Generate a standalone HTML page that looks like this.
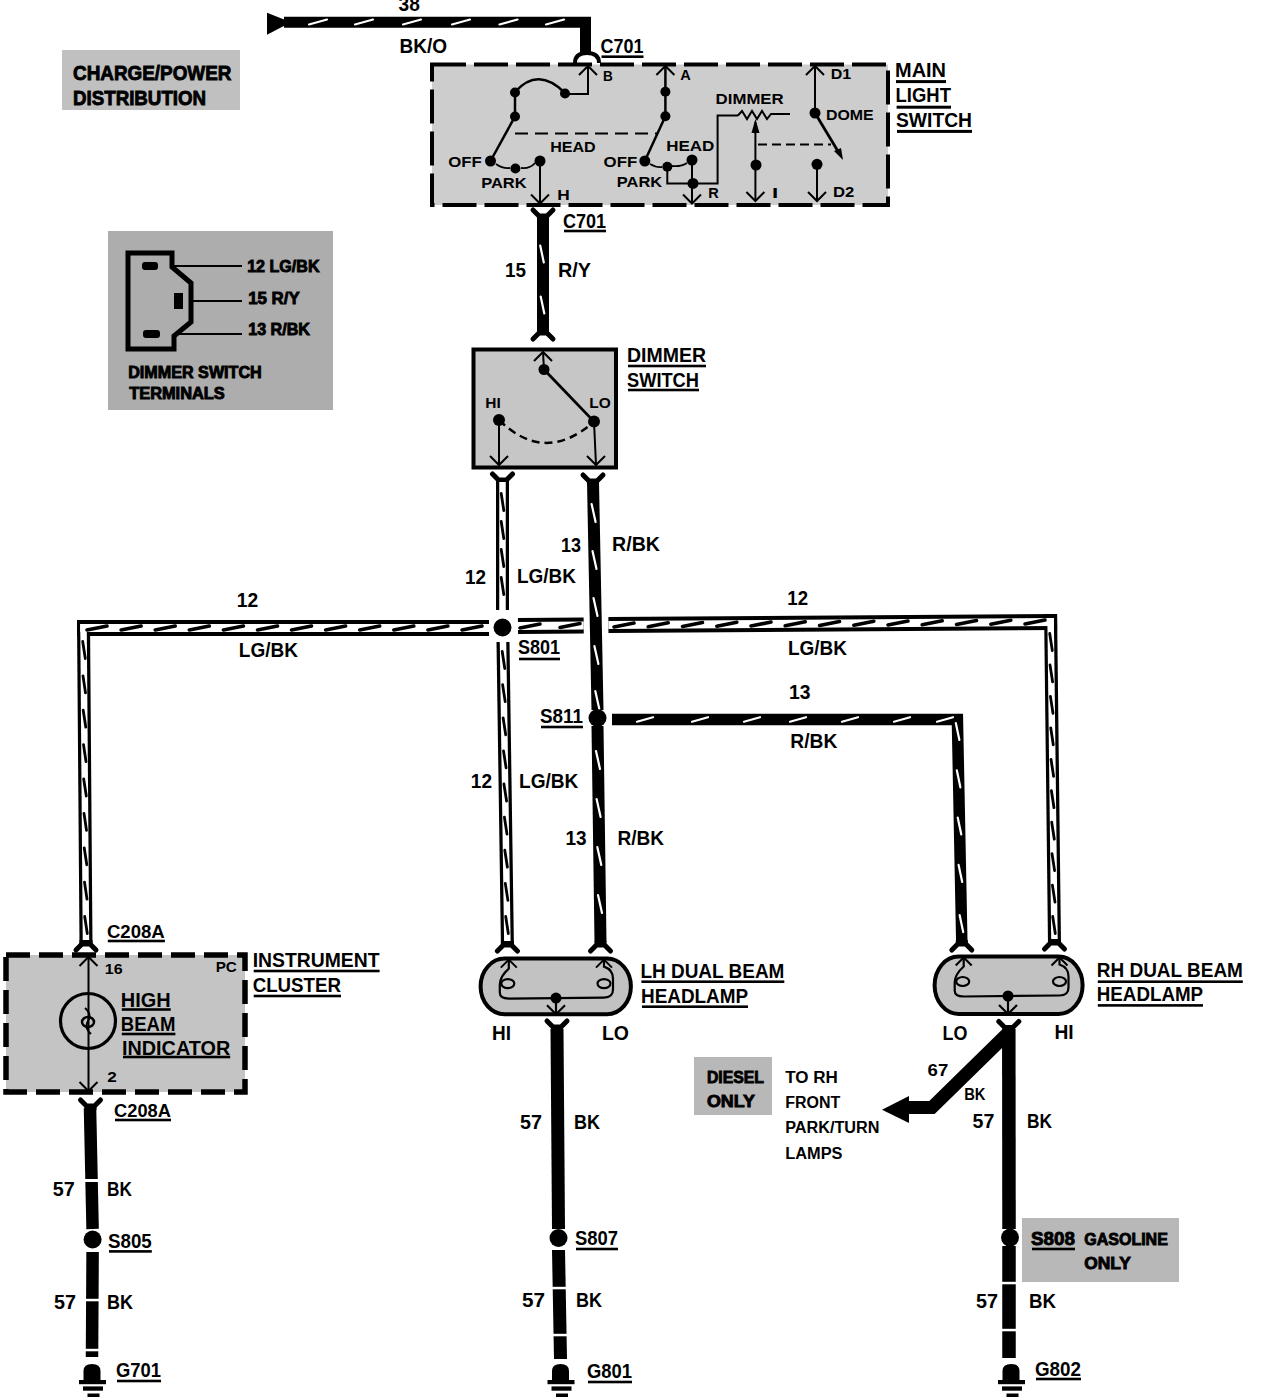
<!DOCTYPE html>
<html><head><meta charset="utf-8"><style>
html,body{margin:0;padding:0;background:#fff;width:1264px;height:1398px;overflow:hidden}
svg{display:block}
text{font-family:"Liberation Sans",sans-serif;font-weight:bold;fill:#000}
</style></head><body>
<svg width="1264" height="1398" viewBox="0 0 1264 1398">
<rect x="62" y="50" width="178" height="60" fill="#c0c0c0"/>
<text x="73" y="80.1" font-size="21" textLength="158.4" lengthAdjust="spacingAndGlyphs" stroke="#000" stroke-width="0.9">CHARGE/POWER</text>
<text x="73" y="104.7" font-size="21" textLength="133.1" lengthAdjust="spacingAndGlyphs" stroke="#000" stroke-width="0.9">DISTRIBUTION</text>
<rect x="108" y="231" width="225" height="179" fill="#adadad"/>
<path d="M172,253 L128,253 L128,349 L174,349 L174,336 L191,322 L191,283 L172,267 Z" stroke="#000" stroke-width="5" fill="none"/>
<rect x="142" y="262" width="16" height="8" rx="3"/>
<rect x="174" y="293" width="9" height="16"/>
<rect x="143" y="330" width="17" height="8" rx="3"/>
<line x1="172" y1="266" x2="242" y2="266" stroke="#000" stroke-width="2" stroke-linecap="butt"/>
<line x1="191" y1="301" x2="242" y2="301" stroke="#000" stroke-width="2" stroke-linecap="butt"/>
<line x1="174" y1="334" x2="242" y2="334" stroke="#000" stroke-width="2" stroke-linecap="butt"/>
<text x="247.2" y="272.2" font-size="17" textLength="72.3" lengthAdjust="spacingAndGlyphs" stroke="#000" stroke-width="0.9">12 LG/BK</text>
<text x="248.2" y="303.6" font-size="17" textLength="51.5" lengthAdjust="spacingAndGlyphs" stroke="#000" stroke-width="0.9">15 R/Y</text>
<text x="248.2" y="335.2" font-size="17" textLength="61.7" lengthAdjust="spacingAndGlyphs" stroke="#000" stroke-width="0.9">13 R/BK</text>
<text x="128.2" y="377.5" font-size="16" textLength="133.6" lengthAdjust="spacingAndGlyphs" stroke="#000" stroke-width="0.9">DIMMER SWITCH</text>
<text x="129.2" y="398.5" font-size="16" textLength="95.6" lengthAdjust="spacingAndGlyphs" stroke="#000" stroke-width="0.9">TERMINALS</text>
<path d="M267,12.7 L267,34.8 L291,22.2 Z"/>
<path d="M284,22.2 L585.5,22.2 L585.5,53" stroke="#000" stroke-width="11" fill="none" stroke-linejoin="miter"/>
<line x1="309" y1="24.5" x2="327" y2="19.5" stroke="#fff" stroke-width="2.2" stroke-linecap="round"/>
<line x1="355" y1="24.5" x2="373" y2="19.5" stroke="#fff" stroke-width="2.2" stroke-linecap="round"/>
<line x1="403" y1="24.5" x2="421" y2="19.5" stroke="#fff" stroke-width="2.2" stroke-linecap="round"/>
<line x1="452" y1="24.5" x2="470" y2="19.5" stroke="#fff" stroke-width="2.2" stroke-linecap="round"/>
<line x1="499.5" y1="24.5" x2="517.5" y2="19.5" stroke="#fff" stroke-width="2.2" stroke-linecap="round"/>
<line x1="546" y1="24.5" x2="564" y2="19.5" stroke="#fff" stroke-width="2.2" stroke-linecap="round"/>
<text x="398.5" y="11.4" font-size="20" textLength="21.3" lengthAdjust="spacingAndGlyphs">38</text>
<text x="399.4" y="53.4" font-size="20" textLength="47.6" lengthAdjust="spacingAndGlyphs">BK/O</text>
<text x="600.5" y="52.9" font-size="20" textLength="43" lengthAdjust="spacingAndGlyphs">C701</text>
<rect x="601.5" y="55.4" width="42" height="2.6"/>
<path d="M575,63 Q575,53 587,53 Q599,53 599,63" stroke="#000" stroke-width="4" fill="none" />
<rect x="432" y="64.5" width="456" height="140.5" fill="#cdcdcd" stroke="#000" stroke-width="4" stroke-dasharray="34 8"/>
<path d="M579,75 L588,66 L597,75" stroke="#000" stroke-width="2" fill="none"/>
<path d="M588,66 L588,94 L565,94" stroke="#000" stroke-width="2" fill="none"/>
<circle cx="565" cy="93.5" r="5"/>
<circle cx="515" cy="92.5" r="5"/>
<path d="M515,92 Q538,66 565,93" stroke="#000" stroke-width="2.5" fill="none" />
<line x1="515" y1="92.5" x2="515" y2="116.5" stroke="#000" stroke-width="2.5" stroke-linecap="butt"/>
<circle cx="515" cy="116.5" r="5"/>
<line x1="515" y1="116.5" x2="490.5" y2="161" stroke="#000" stroke-width="2.5" stroke-linecap="butt"/>
<circle cx="490.5" cy="161" r="5.5"/>
<circle cx="515.4" cy="168.5" r="5"/>
<circle cx="540" cy="161" r="5.5"/>
<path d="M496,164 Q503,169 510,168" stroke="#000" stroke-width="1.8" fill="none" />
<path d="M521,168 Q530,169 535,163" stroke="#000" stroke-width="1.8" fill="none" />
<line x1="540" y1="161" x2="540" y2="204" stroke="#000" stroke-width="2" stroke-linecap="butt"/>
<path d="M531,194.5 L540,203.5 L549,194.5" stroke="#000" stroke-width="2" fill="none"/>
<line x1="515" y1="133.5" x2="657" y2="133.5" stroke="#000" stroke-width="2.2" stroke-dasharray="13 7"/>
<text x="448.2" y="166.7" font-size="15" textLength="33.5" lengthAdjust="spacingAndGlyphs">OFF</text>
<text x="481.2" y="188.2" font-size="15" textLength="45.5" lengthAdjust="spacingAndGlyphs">PARK</text>
<text x="550.2" y="152.2" font-size="15" textLength="45.5" lengthAdjust="spacingAndGlyphs">HEAD</text>
<text x="557.2" y="200.2" font-size="15" textLength="12.5" lengthAdjust="spacingAndGlyphs">H</text>
<text x="603" y="80.9" font-size="15" textLength="9.8" lengthAdjust="spacingAndGlyphs">B</text>
<path d="M656.4,75 L665.4,66 L674.4,75" stroke="#000" stroke-width="2" fill="none"/>
<line x1="665.4" y1="66" x2="665.4" y2="116.2" stroke="#000" stroke-width="2.5" stroke-linecap="butt"/>
<circle cx="665.4" cy="91.8" r="5"/>
<circle cx="665.4" cy="116.2" r="5"/>
<line x1="665.4" y1="116.2" x2="644.8" y2="161" stroke="#000" stroke-width="2.5" stroke-linecap="butt"/>
<circle cx="644.8" cy="161" r="5.5"/>
<circle cx="667.3" cy="166.8" r="5"/>
<circle cx="692" cy="160" r="5.5"/>
<path d="M650,164 Q657,168 662,167" stroke="#000" stroke-width="1.8" fill="none" />
<path d="M672,166 Q681,167 687,163" stroke="#000" stroke-width="1.8" fill="none" />
<line x1="692" y1="160" x2="692" y2="204" stroke="#000" stroke-width="2" stroke-linecap="butt"/>
<path d="M683,194.5 L692,203.5 L701,194.5" stroke="#000" stroke-width="2" fill="none"/>
<circle cx="693" cy="183.4" r="5.5"/>
<path d="M667.3,166.8 L667.3,183.4 L717.6,183.4 L717.6,115.5 L738,115.5" stroke="#000" stroke-width="2" fill="none"/>
<text x="603.6" y="166.7" font-size="15" textLength="33.6" lengthAdjust="spacingAndGlyphs">OFF</text>
<text x="616.8" y="186.7" font-size="15" textLength="45.4" lengthAdjust="spacingAndGlyphs">PARK</text>
<text x="666.2" y="151.2" font-size="15" textLength="48.1" lengthAdjust="spacingAndGlyphs">HEAD</text>
<text x="708.2" y="198.2" font-size="15" textLength="10.5" lengthAdjust="spacingAndGlyphs">R</text>
<text x="680.2" y="79.7" font-size="15" textLength="10.5" lengthAdjust="spacingAndGlyphs">A</text>
<path d="M738,115.5 L742,111 L747,119 L752,111 L757,119 L762,111 L767,119 L771,114 L790,114" stroke="#000" stroke-width="2" fill="none"/>
<line x1="755.4" y1="122" x2="755.4" y2="201" stroke="#000" stroke-width="2" stroke-linecap="butt"/>
<path d="M755.4,119 L751.5,133 L759.5,133 Z"/>
<circle cx="756" cy="165" r="5.5"/>
<path d="M746.4,192 L755.4,201 L764.4,192" stroke="#000" stroke-width="2" fill="none"/>
<line x1="758" y1="144.5" x2="831" y2="144.5" stroke="#000" stroke-width="2" stroke-dasharray="9 5"/>
<text x="715.6" y="103.5" font-size="15" textLength="68.1" lengthAdjust="spacingAndGlyphs">DIMMER</text>
<text x="772" y="197.5" font-size="15" textLength="6.2" lengthAdjust="spacingAndGlyphs">I</text>
<path d="M806,75 L815,66 L824,75" stroke="#000" stroke-width="2" fill="none"/>
<line x1="815" y1="66" x2="815" y2="113" stroke="#000" stroke-width="2" stroke-linecap="butt"/>
<circle cx="815" cy="113" r="5.5"/>
<line x1="815" y1="113" x2="839" y2="153" stroke="#000" stroke-width="2.8" stroke-linecap="butt"/>
<path d="M843,160 L834,151 L841,148 Z"/>
<circle cx="817" cy="164.3" r="5.5"/>
<line x1="817" y1="164.3" x2="817" y2="201" stroke="#000" stroke-width="2" stroke-linecap="butt"/>
<path d="M808,192 L817,201 L826,192" stroke="#000" stroke-width="2" fill="none"/>
<text x="830.8" y="78.5" font-size="15" textLength="20.5" lengthAdjust="spacingAndGlyphs">D1</text>
<text x="826" y="119.8" font-size="15" textLength="47.7" lengthAdjust="spacingAndGlyphs">DOME</text>
<text x="833" y="197.2" font-size="15" textLength="21.3" lengthAdjust="spacingAndGlyphs">D2</text>
<text x="895" y="76.9" font-size="19.5" textLength="51" lengthAdjust="spacingAndGlyphs">MAIN</text>
<rect x="896" y="80.1" width="50" height="3"/>
<text x="895.6" y="101.8" font-size="19.5" textLength="55.3" lengthAdjust="spacingAndGlyphs">LIGHT</text>
<rect x="896.6" y="105.7" width="54.4" height="3"/>
<text x="896" y="126.7" font-size="19.5" textLength="76" lengthAdjust="spacingAndGlyphs">SWITCH</text>
<rect x="897" y="129.9" width="75" height="3"/>
<path d="M533,210 L539,216 L547,216 L553,210" stroke="#000" stroke-width="5" fill="none" stroke-linecap="round" stroke-linejoin="round"/>
<rect x="537" y="215" width="12" height="5"/>
<path d="M543,218 L543,332" stroke="#000" stroke-width="12" fill="none" stroke-linejoin="miter"/>
<line x1="540.2" y1="245.5" x2="543.8" y2="262.5" stroke="#fff" stroke-width="2.2" stroke-linecap="round"/>
<line x1="540.7" y1="296.5" x2="544.3" y2="313.5" stroke="#fff" stroke-width="2.2" stroke-linecap="round"/>
<path d="M533,339 L539,333 L547,333 L553,339" stroke="#000" stroke-width="5" fill="none" stroke-linecap="round" stroke-linejoin="round"/>
<rect x="537" y="329" width="12" height="5"/>
<text x="563" y="227.9" font-size="20" textLength="43" lengthAdjust="spacingAndGlyphs">C701</text>
<rect x="564" y="229.7" width="42" height="2.6"/>
<text x="505" y="276.9" font-size="20" textLength="21" lengthAdjust="spacingAndGlyphs">15</text>
<text x="558" y="276.9" font-size="20" textLength="33" lengthAdjust="spacingAndGlyphs">R/Y</text>
<rect x="473.5" y="349.5" width="142.5" height="118" fill="#c6c6c6" stroke="#000" stroke-width="4"/>
<path d="M534,361 L543,352 L552,361" stroke="#000" stroke-width="2" fill="none"/>
<line x1="543" y1="352" x2="544" y2="369.5" stroke="#000" stroke-width="2" stroke-linecap="butt"/>
<circle cx="544" cy="369.5" r="5.5"/>
<line x1="544" y1="369.5" x2="594" y2="421.6" stroke="#000" stroke-width="2.8" stroke-linecap="butt"/>
<circle cx="594" cy="421.6" r="6"/>
<circle cx="499" cy="420" r="6"/>
<path d="M499,420 Q545,465 594,421.6" stroke="#000" stroke-width="2.5" fill="none" stroke-dasharray="8 5"/>
<line x1="499" y1="420" x2="499" y2="465" stroke="#000" stroke-width="2" stroke-linecap="butt"/>
<path d="M490,456 L499,465 L508,456" stroke="#000" stroke-width="2" fill="none"/>
<line x1="594" y1="421.6" x2="596" y2="465" stroke="#000" stroke-width="2" stroke-linecap="butt"/>
<path d="M587,456 L596,465 L605,456" stroke="#000" stroke-width="2" fill="none"/>
<text x="485.2" y="408.2" font-size="15" textLength="15.5" lengthAdjust="spacingAndGlyphs">HI</text>
<text x="589.2" y="408.2" font-size="15" textLength="21.5" lengthAdjust="spacingAndGlyphs">LO</text>
<text x="627" y="361.9" font-size="20" textLength="79" lengthAdjust="spacingAndGlyphs">DIMMER</text>
<rect x="628" y="364.7" width="78" height="2.6"/>
<text x="627" y="386.9" font-size="20" textLength="72" lengthAdjust="spacingAndGlyphs">SWITCH</text>
<rect x="628" y="388.7" width="71" height="2.6"/>
<path d="M492.5,474 L498.5,480 L506.5,480 L512.5,474" stroke="#000" stroke-width="5" fill="none" stroke-linecap="round" stroke-linejoin="round"/>
<rect x="496" y="479" width="13" height="5"/>
<path d="M502.5,482 L502.5,610" stroke="#000" stroke-width="13" fill="none"/>
<path d="M502.5,482 L502.5,610" stroke="#fff" stroke-width="6.5" fill="none"/>
<path d="M501.2,493.5 L503.8,510.5" stroke="#000" stroke-width="2.8" stroke-linecap="round"/>
<path d="M501.2,521.5 L503.8,538.5" stroke="#000" stroke-width="2.8" stroke-linecap="round"/>
<path d="M501.2,549.5 L503.8,566.5" stroke="#000" stroke-width="2.8" stroke-linecap="round"/>
<path d="M501.2,577.5 L503.8,594.5" stroke="#000" stroke-width="2.8" stroke-linecap="round"/>
<path d="M503,642 L507.4,944" stroke="#000" stroke-width="13" fill="none"/>
<path d="M503,642 L507.4,944" stroke="#fff" stroke-width="6.5" fill="none"/>
<path d="M502.2,651.5 L504.8,668.5" stroke="#000" stroke-width="2.8" stroke-linecap="round"/>
<path d="M502.6,684.6 L505.2,701.6" stroke="#000" stroke-width="2.8" stroke-linecap="round"/>
<path d="M503.1,717.8 L505.7,734.8" stroke="#000" stroke-width="2.8" stroke-linecap="round"/>
<path d="M503.5,750.9 L506.1,767.9" stroke="#000" stroke-width="2.8" stroke-linecap="round"/>
<path d="M503.9,784 L506.6,801" stroke="#000" stroke-width="2.8" stroke-linecap="round"/>
<path d="M504.4,817.1 L507,834.1" stroke="#000" stroke-width="2.8" stroke-linecap="round"/>
<path d="M504.8,850.2 L507.4,867.2" stroke="#000" stroke-width="2.8" stroke-linecap="round"/>
<path d="M505.3,883.4 L507.9,900.4" stroke="#000" stroke-width="2.8" stroke-linecap="round"/>
<path d="M505.7,916.5 L508.3,933.5" stroke="#000" stroke-width="2.8" stroke-linecap="round"/>
<path d="M497.4,951 L503.4,945 L511.4,945 L517.4,951" stroke="#000" stroke-width="5" fill="none" stroke-linecap="round" stroke-linejoin="round"/>
<rect x="500.9" y="941" width="13" height="5"/>
<path d="M489,628 L77,628" stroke="#000" stroke-width="16" fill="none"/>
<path d="M83.5,620 L86,944" stroke="#000" stroke-width="13" fill="none"/>
<path d="M489,628 L80.2,628" stroke="#fff" stroke-width="8" fill="none"/>
<path d="M83.5,624 L86,944" stroke="#fff" stroke-width="6.5" fill="none"/>
<path d="M87,630 L107,626" stroke="#000" stroke-width="3.6" stroke-linecap="round"/>
<path d="M121.1,630 L141.1,626" stroke="#000" stroke-width="3.6" stroke-linecap="round"/>
<path d="M155.2,630 L175.2,626" stroke="#000" stroke-width="3.6" stroke-linecap="round"/>
<path d="M189.3,630 L209.3,626" stroke="#000" stroke-width="3.6" stroke-linecap="round"/>
<path d="M223.4,630 L243.4,626" stroke="#000" stroke-width="3.6" stroke-linecap="round"/>
<path d="M257.5,630 L277.5,626" stroke="#000" stroke-width="3.6" stroke-linecap="round"/>
<path d="M291.5,630 L311.5,626" stroke="#000" stroke-width="3.6" stroke-linecap="round"/>
<path d="M325.6,630 L345.6,626" stroke="#000" stroke-width="3.6" stroke-linecap="round"/>
<path d="M359.7,630 L379.7,626" stroke="#000" stroke-width="3.6" stroke-linecap="round"/>
<path d="M393.8,630 L413.8,626" stroke="#000" stroke-width="3.6" stroke-linecap="round"/>
<path d="M427.9,630 L447.9,626" stroke="#000" stroke-width="3.6" stroke-linecap="round"/>
<path d="M462,630 L482,626" stroke="#000" stroke-width="3.6" stroke-linecap="round"/>
<path d="M82.7,641.5 L85.3,658.5" stroke="#000" stroke-width="2.8" stroke-linecap="round"/>
<path d="M83,675.9 L85.5,692.9" stroke="#000" stroke-width="2.8" stroke-linecap="round"/>
<path d="M83.2,710.2 L85.8,727.2" stroke="#000" stroke-width="2.8" stroke-linecap="round"/>
<path d="M83.5,744.6 L86,761.6" stroke="#000" stroke-width="2.8" stroke-linecap="round"/>
<path d="M83.7,779 L86.3,796" stroke="#000" stroke-width="2.8" stroke-linecap="round"/>
<path d="M84,813.4 L86.5,830.4" stroke="#000" stroke-width="2.8" stroke-linecap="round"/>
<path d="M84.2,847.8 L86.8,864.8" stroke="#000" stroke-width="2.8" stroke-linecap="round"/>
<path d="M84.5,882.1 L87,899.1" stroke="#000" stroke-width="2.8" stroke-linecap="round"/>
<path d="M84.7,916.5 L87.3,933.5" stroke="#000" stroke-width="2.8" stroke-linecap="round"/>
<path d="M76,950 L82,944 L90,944 L96,950" stroke="#000" stroke-width="5" fill="none" stroke-linecap="round" stroke-linejoin="round"/>
<rect x="79.5" y="940" width="13" height="5"/>
<path d="M518,626 L583.7,625.5" stroke="#000" stroke-width="16" fill="none"/>
<path d="M518,626 L583.7,625.5" stroke="#fff" stroke-width="8" fill="none"/>
<path d="M520,628 L540,624" stroke="#000" stroke-width="3.6" stroke-linecap="round"/>
<path d="M560,627.5 L580,623.5" stroke="#000" stroke-width="3.6" stroke-linecap="round"/>
<path d="M608.4,625 L1057.1,621.9" stroke="#000" stroke-width="16" fill="none"/>
<path d="M1050.6,614 L1054.5,944" stroke="#000" stroke-width="13" fill="none"/>
<path d="M608.4,625 L1053.8,621.9" stroke="#fff" stroke-width="8" fill="none"/>
<path d="M1050.6,618 L1054.5,944" stroke="#fff" stroke-width="6.5" fill="none"/>
<path d="M614,627 L634,623" stroke="#000" stroke-width="3.6" stroke-linecap="round"/>
<path d="M648.2,626.8 L668.2,622.8" stroke="#000" stroke-width="3.6" stroke-linecap="round"/>
<path d="M682.5,626.5 L702.5,622.5" stroke="#000" stroke-width="3.6" stroke-linecap="round"/>
<path d="M716.8,626.2 L736.8,622.2" stroke="#000" stroke-width="3.6" stroke-linecap="round"/>
<path d="M751,626 L771,622" stroke="#000" stroke-width="3.6" stroke-linecap="round"/>
<path d="M785.2,625.8 L805.2,621.8" stroke="#000" stroke-width="3.6" stroke-linecap="round"/>
<path d="M819.5,625.5 L839.5,621.5" stroke="#000" stroke-width="3.6" stroke-linecap="round"/>
<path d="M853.8,625.2 L873.8,621.2" stroke="#000" stroke-width="3.6" stroke-linecap="round"/>
<path d="M888,625 L908,621" stroke="#000" stroke-width="3.6" stroke-linecap="round"/>
<path d="M922.2,624.8 L942.2,620.8" stroke="#000" stroke-width="3.6" stroke-linecap="round"/>
<path d="M956.5,624.5 L976.5,620.5" stroke="#000" stroke-width="3.6" stroke-linecap="round"/>
<path d="M990.8,624.2 L1010.8,620.2" stroke="#000" stroke-width="3.6" stroke-linecap="round"/>
<path d="M1025,624 L1045,620" stroke="#000" stroke-width="3.6" stroke-linecap="round"/>
<path d="M1049.7,633.5 L1052.3,650.5" stroke="#000" stroke-width="2.8" stroke-linecap="round"/>
<path d="M1050,664.9 L1052.6,681.9" stroke="#000" stroke-width="2.8" stroke-linecap="round"/>
<path d="M1050.4,696.4 L1053,713.4" stroke="#000" stroke-width="2.8" stroke-linecap="round"/>
<path d="M1050.7,727.8 L1053.3,744.8" stroke="#000" stroke-width="2.8" stroke-linecap="round"/>
<path d="M1051,759.3 L1053.6,776.3" stroke="#000" stroke-width="2.8" stroke-linecap="round"/>
<path d="M1051.4,790.7 L1054,807.7" stroke="#000" stroke-width="2.8" stroke-linecap="round"/>
<path d="M1051.7,822.2 L1054.3,839.2" stroke="#000" stroke-width="2.8" stroke-linecap="round"/>
<path d="M1052,853.6 L1054.6,870.6" stroke="#000" stroke-width="2.8" stroke-linecap="round"/>
<path d="M1052.4,885.1 L1055,902.1" stroke="#000" stroke-width="2.8" stroke-linecap="round"/>
<path d="M1052.7,916.5 L1055.3,933.5" stroke="#000" stroke-width="2.8" stroke-linecap="round"/>
<path d="M1044.5,949 L1050.5,943 L1058.5,943 L1064.5,949" stroke="#000" stroke-width="5" fill="none" stroke-linecap="round" stroke-linejoin="round"/>
<rect x="1048" y="939" width="13" height="5"/>
<circle cx="502.5" cy="627.5" r="9"/>
<text x="236.8" y="607.4" font-size="20" textLength="21.4" lengthAdjust="spacingAndGlyphs">12</text>
<text x="238.8" y="656.8" font-size="20" textLength="59.2" lengthAdjust="spacingAndGlyphs">LG/BK</text>
<text x="465" y="583.9" font-size="20" textLength="21" lengthAdjust="spacingAndGlyphs">12</text>
<text x="517" y="582.9" font-size="20" textLength="59" lengthAdjust="spacingAndGlyphs">LG/BK</text>
<text x="518" y="653.9" font-size="20" textLength="42" lengthAdjust="spacingAndGlyphs">S801</text>
<rect x="519" y="657.7" width="41" height="2.6"/>
<text x="787.3" y="604.9" font-size="20" textLength="20.7" lengthAdjust="spacingAndGlyphs">12</text>
<text x="787.9" y="654.9" font-size="20" textLength="59.1" lengthAdjust="spacingAndGlyphs">LG/BK</text>
<text x="470.8" y="787.9" font-size="20" textLength="21.2" lengthAdjust="spacingAndGlyphs">12</text>
<text x="519" y="787.9" font-size="20" textLength="59.4" lengthAdjust="spacingAndGlyphs">LG/BK</text>
<path d="M583,475 L589,481 L597,481 L603,475" stroke="#000" stroke-width="5" fill="none" stroke-linecap="round" stroke-linejoin="round"/>
<rect x="587" y="480" width="12" height="5"/>
<path d="M593,482 L597.5,710" stroke="#000" stroke-width="12" fill="none" stroke-linejoin="miter"/>
<line x1="591.6" y1="504" x2="595.6" y2="522" stroke="#fff" stroke-width="2.2" stroke-linecap="round"/>
<line x1="592.5" y1="551" x2="596.5" y2="569" stroke="#fff" stroke-width="2.2" stroke-linecap="round"/>
<line x1="593.5" y1="598" x2="597.5" y2="616" stroke="#fff" stroke-width="2.2" stroke-linecap="round"/>
<line x1="594.4" y1="646" x2="598.4" y2="664" stroke="#fff" stroke-width="2.2" stroke-linecap="round"/>
<line x1="595.3" y1="691" x2="599.3" y2="709" stroke="#fff" stroke-width="2.2" stroke-linecap="round"/>
<circle cx="597.5" cy="718" r="9"/>
<path d="M597.5,726 L600.5,942" stroke="#000" stroke-width="12" fill="none" stroke-linejoin="miter"/>
<line x1="596" y1="751" x2="600" y2="769" stroke="#fff" stroke-width="2.2" stroke-linecap="round"/>
<line x1="596.6" y1="799" x2="600.6" y2="817" stroke="#fff" stroke-width="2.2" stroke-linecap="round"/>
<line x1="597.3" y1="847" x2="601.3" y2="865" stroke="#fff" stroke-width="2.2" stroke-linecap="round"/>
<line x1="598" y1="895" x2="602" y2="913" stroke="#fff" stroke-width="2.2" stroke-linecap="round"/>
<path d="M590.5,951 L596.5,945 L604.5,945 L610.5,951" stroke="#000" stroke-width="5" fill="none" stroke-linecap="round" stroke-linejoin="round"/>
<rect x="594.5" y="941" width="12" height="5"/>
<path d="M612,719.5 L957.4,719.5 L961.8,942" stroke="#000" stroke-width="11.5" fill="none" stroke-linejoin="miter"/>
<line x1="637" y1="721.8" x2="653" y2="717.2" stroke="#fff" stroke-width="2.2" stroke-linecap="round"/>
<line x1="692" y1="721.8" x2="708" y2="717.2" stroke="#fff" stroke-width="2.2" stroke-linecap="round"/>
<line x1="744" y1="721.8" x2="760" y2="717.2" stroke="#fff" stroke-width="2.2" stroke-linecap="round"/>
<line x1="790" y1="721.8" x2="806" y2="717.2" stroke="#fff" stroke-width="2.2" stroke-linecap="round"/>
<line x1="842" y1="721.8" x2="858" y2="717.2" stroke="#fff" stroke-width="2.2" stroke-linecap="round"/>
<line x1="894" y1="721.8" x2="910" y2="717.2" stroke="#fff" stroke-width="2.2" stroke-linecap="round"/>
<line x1="937" y1="721.8" x2="953" y2="717.2" stroke="#fff" stroke-width="2.2" stroke-linecap="round"/>
<line x1="955.8" y1="723" x2="959.4" y2="740" stroke="#fff" stroke-width="2.2" stroke-linecap="round"/>
<line x1="956.8" y1="770.3" x2="960.4" y2="787.3" stroke="#fff" stroke-width="2.2" stroke-linecap="round"/>
<line x1="957.7" y1="817.5" x2="961.3" y2="834.5" stroke="#fff" stroke-width="2.2" stroke-linecap="round"/>
<line x1="958.6" y1="864.9" x2="962.2" y2="881.9" stroke="#fff" stroke-width="2.2" stroke-linecap="round"/>
<line x1="959.6" y1="915.1" x2="963.2" y2="932.1" stroke="#fff" stroke-width="2.2" stroke-linecap="round"/>
<path d="M951.8,950 L957.8,944 L965.8,944 L971.8,950" stroke="#000" stroke-width="5" fill="none" stroke-linecap="round" stroke-linejoin="round"/>
<rect x="955.8" y="940" width="12" height="5"/>
<text x="561" y="551.9" font-size="20" textLength="20" lengthAdjust="spacingAndGlyphs">13</text>
<text x="612" y="550.9" font-size="20" textLength="48" lengthAdjust="spacingAndGlyphs">R/BK</text>
<text x="540" y="722.9" font-size="20" textLength="43" lengthAdjust="spacingAndGlyphs">S811</text>
<rect x="541" y="725.7" width="42" height="2.6"/>
<text x="789" y="698.9" font-size="20" textLength="21.5" lengthAdjust="spacingAndGlyphs">13</text>
<text x="790.3" y="747.9" font-size="20" textLength="47" lengthAdjust="spacingAndGlyphs">R/BK</text>
<text x="565.5" y="844.9" font-size="20" textLength="21.1" lengthAdjust="spacingAndGlyphs">13</text>
<text x="617.4" y="844.9" font-size="20" textLength="46.6" lengthAdjust="spacingAndGlyphs">R/BK</text>
<rect x="6" y="955" width="239" height="137" fill="#c4c4c4" stroke="#000" stroke-width="5.5" stroke-dasharray="24 9"/>
<line x1="88.5" y1="957" x2="88.5" y2="1091" stroke="#000" stroke-width="2" stroke-linecap="butt"/>
<path d="M79.5,966 L88.5,957 L97.5,966" stroke="#000" stroke-width="2" fill="none"/>
<path d="M79.5,1082 L88.5,1091 L97.5,1082" stroke="#000" stroke-width="2" fill="none"/>
<circle cx="88" cy="1021" r="27.5" fill="none" stroke="#000" stroke-width="3.2"/>
<path d="M85,1008 Q92,1014 88,1021 Q84,1028 91,1034" stroke="#000" stroke-width="2" fill="none"/>
<ellipse cx="88" cy="1022" rx="6" ry="5" fill="none" stroke="#000" stroke-width="2.5"/>
<text x="104.8" y="973.9" font-size="15" textLength="17.8" lengthAdjust="spacingAndGlyphs">16</text>
<text x="215.7" y="972.3" font-size="14" textLength="21.2" lengthAdjust="spacingAndGlyphs">PC</text>
<text x="120.8" y="1006.9" font-size="20" textLength="49.9" lengthAdjust="spacingAndGlyphs">HIGH</text>
<rect x="121.8" y="1008.2" width="48.9" height="2.6"/>
<text x="120.8" y="1030.9" font-size="20" textLength="54.6" lengthAdjust="spacingAndGlyphs">BEAM</text>
<rect x="121.8" y="1032.7" width="53.6" height="2.6"/>
<text x="122" y="1054.9" font-size="20" textLength="108.2" lengthAdjust="spacingAndGlyphs">INDICATOR</text>
<rect x="123" y="1055.7" width="107.2" height="2.6"/>
<text x="107.2" y="1082.2" font-size="15" textLength="9.5" lengthAdjust="spacingAndGlyphs">2</text>
<text x="252.7" y="967.4" font-size="20" textLength="126.9" lengthAdjust="spacingAndGlyphs">INSTRUMENT</text>
<rect x="253.7" y="969.7" width="125.9" height="2.6"/>
<text x="252.7" y="991.9" font-size="20" textLength="88.3" lengthAdjust="spacingAndGlyphs">CLUSTER</text>
<rect x="253.7" y="994.7" width="87.3" height="2.6"/>
<text x="106.9" y="938.2" font-size="18" textLength="57.9" lengthAdjust="spacingAndGlyphs">C208A</text>
<rect x="107.8" y="939.7" width="57.1" height="2.6"/>
<text x="114.1" y="1117.2" font-size="18" textLength="56.8" lengthAdjust="spacingAndGlyphs">C208A</text>
<rect x="115" y="1118.7" width="56" height="2.6"/>
<rect x="480.6" y="958.6" width="150.3" height="55.7" rx="24" ry="27.8" fill="#c2c2c2" stroke="#000" stroke-width="4"/>
<path d="M500.8,967.6 L508.8,959.6 L516.8,967.6" stroke="#000" stroke-width="2" fill="none"/>
<path d="M596,967.6 L604,959.6 L612,967.6" stroke="#000" stroke-width="2" fill="none"/>
<path d="M508.8,959.6 L508.8,968.6 Q499.8,976.6 499.8,984.6 L499.8,992.6 Q499.8,998.6 508.8,998.6 L604,997.6 Q613,997.6 613,989.6 L613,978.6 Q613,969.6 604,966.6 L604,959.6" stroke="#000" stroke-width="2.2" fill="none"/>
<ellipse cx="507.8" cy="983.6" rx="6.5" ry="4.5" fill="none" stroke="#000" stroke-width="2.2"/>
<ellipse cx="604" cy="983.6" rx="6.5" ry="4.5" fill="none" stroke="#000" stroke-width="2.2"/>
<circle cx="556" cy="998.1" r="5.5"/>
<line x1="556" y1="998.1" x2="556" y2="1014.3" stroke="#000" stroke-width="2.2" stroke-linecap="butt"/>
<path d="M547,1005.3 L556,1014.3 L565,1005.3" stroke="#000" stroke-width="2.2" fill="none"/>
<rect x="934.6" y="956.5" width="148" height="57.5" rx="24" ry="28.8" fill="#c2c2c2" stroke="#000" stroke-width="4"/>
<path d="M955.7,965.5 L963.7,957.5 L971.7,965.5" stroke="#000" stroke-width="2" fill="none"/>
<path d="M1051.5,965.5 L1059.5,957.5 L1067.5,965.5" stroke="#000" stroke-width="2" fill="none"/>
<path d="M963.7,957.5 L963.7,966.5 Q954.7,974.5 954.7,982.5 L954.7,990.5 Q954.7,996.5 963.7,996.5 L1059.5,995.5 Q1068.5,995.5 1068.5,987.5 L1068.5,976.5 Q1068.5,967.5 1059.5,964.5 L1059.5,957.5" stroke="#000" stroke-width="2.2" fill="none"/>
<ellipse cx="962.7" cy="981.5" rx="6.5" ry="4.5" fill="none" stroke="#000" stroke-width="2.2"/>
<ellipse cx="1059.5" cy="981.5" rx="6.5" ry="4.5" fill="none" stroke="#000" stroke-width="2.2"/>
<circle cx="1008" cy="996" r="5.5"/>
<line x1="1008" y1="996" x2="1008" y2="1014" stroke="#000" stroke-width="2.2" stroke-linecap="butt"/>
<path d="M999,1005 L1008,1014 L1017,1005" stroke="#000" stroke-width="2.2" fill="none"/>
<text x="640.4" y="977.7" font-size="21" textLength="144" lengthAdjust="spacingAndGlyphs">LH DUAL BEAM</text>
<rect x="641.4" y="980.4" width="142.9" height="2.6"/>
<text x="641" y="1002.6" font-size="21" textLength="107.1" lengthAdjust="spacingAndGlyphs">HEADLAMP</text>
<rect x="642" y="1005.4" width="106" height="2.6"/>
<text x="1096.8" y="976.9" font-size="21" textLength="146.1" lengthAdjust="spacingAndGlyphs">RH DUAL BEAM</text>
<rect x="1097.8" y="980.4" width="145" height="2.6"/>
<text x="1096.8" y="1000.7" font-size="21" textLength="106.3" lengthAdjust="spacingAndGlyphs">HEADLAMP</text>
<rect x="1097.8" y="1004.1" width="105.2" height="2.6"/>
<text x="492" y="1039.9" font-size="20" textLength="19" lengthAdjust="spacingAndGlyphs">HI</text>
<text x="602" y="1039.9" font-size="20" textLength="27" lengthAdjust="spacingAndGlyphs">LO</text>
<text x="942.6" y="1039.9" font-size="20" textLength="24.9" lengthAdjust="spacingAndGlyphs">LO</text>
<text x="1054.5" y="1039.4" font-size="20" textLength="19.2" lengthAdjust="spacingAndGlyphs">HI</text>
<path d="M80.5,1100 L86.5,1106 L94.5,1106 L100.5,1100" stroke="#000" stroke-width="5" fill="none" stroke-linecap="round" stroke-linejoin="round"/>
<rect x="84.5" y="1105" width="12" height="5"/>
<path d="M90,1108 L92.6,1229" stroke="#000" stroke-width="12.5" fill="none" stroke-linejoin="miter"/>
<rect x="81.5" y="1179" width="18" height="3" fill="#fff"/>
<circle cx="92.6" cy="1239.5" r="9"/>
<path d="M92.6,1252 L92,1357" stroke="#000" stroke-width="12.5" fill="none" stroke-linejoin="miter"/>
<rect x="83.3" y="1298.8" width="18" height="2.5" fill="#fff"/>
<rect x="83" y="1348.8" width="18" height="2.5" fill="#fff"/>
<path d="M83.5,1381 L83.5,1371 Q83.5,1364 92,1364 Q100.5,1364 100.5,1371 L100.5,1381 Z"/>
<rect x="79" y="1380" width="27" height="4.2"/>
<rect x="83" y="1386.4" width="20" height="4.3"/>
<rect x="87.5" y="1393.5" width="12" height="3.5"/>
<text x="52.8" y="1195.9" font-size="20" textLength="22" lengthAdjust="spacingAndGlyphs">57</text>
<text x="107" y="1195.9" font-size="20" textLength="24.9" lengthAdjust="spacingAndGlyphs">BK</text>
<text x="108" y="1248.2" font-size="20" textLength="43.8" lengthAdjust="spacingAndGlyphs">S805</text>
<rect x="109" y="1250.1" width="42.8" height="2.6"/>
<text x="54" y="1308.9" font-size="20" textLength="22" lengthAdjust="spacingAndGlyphs">57</text>
<text x="107" y="1308.9" font-size="20" textLength="26" lengthAdjust="spacingAndGlyphs">BK</text>
<text x="116" y="1376.9" font-size="20" textLength="45" lengthAdjust="spacingAndGlyphs">G701</text>
<rect x="117" y="1379.7" width="44" height="2.6"/>
<path d="M547,1021 L553,1027 L561,1027 L567,1021" stroke="#000" stroke-width="5" fill="none" stroke-linecap="round" stroke-linejoin="round"/>
<rect x="551" y="1026" width="12" height="5"/>
<path d="M557,1029 L558.5,1229" stroke="#000" stroke-width="13" fill="none" stroke-linejoin="miter"/>
<circle cx="558.5" cy="1238" r="9"/>
<path d="M558.5,1250 L560.5,1359" stroke="#000" stroke-width="13" fill="none" stroke-linejoin="miter"/>
<rect x="551" y="1286.8" width="18" height="2.5" fill="#fff"/>
<rect x="551.3" y="1333.8" width="18" height="2.5" fill="#fff"/>
<path d="M552,1381 L552,1371 Q552,1364 560.5,1364 Q569,1364 569,1371 L569,1381 Z"/>
<rect x="547.5" y="1380" width="27" height="4.2"/>
<rect x="551.5" y="1386.4" width="20" height="4.3"/>
<rect x="556" y="1393.5" width="12" height="3.5"/>
<text x="520" y="1128.9" font-size="20" textLength="22" lengthAdjust="spacingAndGlyphs">57</text>
<text x="574" y="1128.9" font-size="20" textLength="26" lengthAdjust="spacingAndGlyphs">BK</text>
<text x="575" y="1244.9" font-size="20" textLength="43" lengthAdjust="spacingAndGlyphs">S807</text>
<rect x="576" y="1247.7" width="42" height="2.6"/>
<text x="522" y="1306.9" font-size="20" textLength="23" lengthAdjust="spacingAndGlyphs">57</text>
<text x="576" y="1306.9" font-size="20" textLength="26" lengthAdjust="spacingAndGlyphs">BK</text>
<text x="587" y="1377.9" font-size="20" textLength="45" lengthAdjust="spacingAndGlyphs">G801</text>
<rect x="588" y="1380.7" width="44" height="2.6"/>
<path d="M998.8,1021.5 L1004.8,1027.5 L1012.8,1027.5 L1018.8,1021.5" stroke="#000" stroke-width="5" fill="none" stroke-linecap="round" stroke-linejoin="round"/>
<rect x="1002.8" y="1026.5" width="12" height="5"/>
<path d="M1008.8,1029 L1009,1229" stroke="#000" stroke-width="13.5" fill="none" stroke-linejoin="miter"/>
<circle cx="1010" cy="1237.6" r="9"/>
<path d="M1009,1246 L1009,1358" stroke="#000" stroke-width="13.5" fill="none" stroke-linejoin="miter"/>
<rect x="1000" y="1281.8" width="18" height="2.5" fill="#fff"/>
<rect x="1000" y="1328.8" width="18" height="2.5" fill="#fff"/>
<path d="M1002.5,1381 L1002.5,1371 Q1002.5,1364 1011,1364 Q1019.5,1364 1019.5,1371 L1019.5,1381 Z"/>
<rect x="998" y="1380" width="27" height="4.2"/>
<rect x="1002" y="1386.4" width="20" height="4.3"/>
<rect x="1006.5" y="1393.5" width="12" height="3.5"/>
<path d="M1008,1033 L932,1107.5 L908,1107.5" stroke="#000" stroke-width="13" fill="none" stroke-linejoin="miter"/>
<path d="M882,1109.7 L909,1096 L909,1123 Z"/>
<text x="927.6" y="1076.3" font-size="17" textLength="20.7" lengthAdjust="spacingAndGlyphs">67</text>
<text x="964.2" y="1099.5" font-size="16" textLength="21.3" lengthAdjust="spacingAndGlyphs">BK</text>
<text x="972.6" y="1128.4" font-size="20" textLength="21.8" lengthAdjust="spacingAndGlyphs">57</text>
<text x="1027" y="1127.9" font-size="20" textLength="25" lengthAdjust="spacingAndGlyphs">BK</text>
<text x="976" y="1307.9" font-size="20" textLength="22" lengthAdjust="spacingAndGlyphs">57</text>
<text x="1029" y="1307.9" font-size="20" textLength="27" lengthAdjust="spacingAndGlyphs">BK</text>
<text x="1035" y="1375.9" font-size="20" textLength="46" lengthAdjust="spacingAndGlyphs">G802</text>
<rect x="1036" y="1377.7" width="45" height="2.6"/>
<rect x="1022" y="1218" width="157" height="64" fill="#b8b8b8"/>
<text x="1031" y="1244.5" font-size="19" textLength="43.9" lengthAdjust="spacingAndGlyphs" stroke="#000" stroke-width="0.9">S808</text>
<rect x="1032" y="1247.7" width="43" height="2.6"/>
<text x="1084.2" y="1244.8" font-size="17" textLength="83.7" lengthAdjust="spacingAndGlyphs" stroke="#000" stroke-width="0.9">GASOLINE</text>
<text x="1084.2" y="1268.8" font-size="17" textLength="46.7" lengthAdjust="spacingAndGlyphs" stroke="#000" stroke-width="0.9">ONLY</text>
<rect x="694" y="1057" width="78" height="58" fill="#b8b8b8"/>
<text x="706.9" y="1082.5" font-size="17" textLength="57" lengthAdjust="spacingAndGlyphs" stroke="#000" stroke-width="0.9">DIESEL</text>
<text x="706.9" y="1106.8" font-size="17" textLength="48" lengthAdjust="spacingAndGlyphs" stroke="#000" stroke-width="0.9">ONLY</text>
<text x="785.2" y="1082.5" font-size="16" textLength="52.6" lengthAdjust="spacingAndGlyphs">TO RH</text>
<text x="785.2" y="1107.5" font-size="16" textLength="55" lengthAdjust="spacingAndGlyphs">FRONT</text>
<text x="785.2" y="1133" font-size="16" textLength="94.3" lengthAdjust="spacingAndGlyphs">PARK/TURN</text>
<text x="785.2" y="1158.5" font-size="16" textLength="57.3" lengthAdjust="spacingAndGlyphs">LAMPS</text>
</svg></body></html>
